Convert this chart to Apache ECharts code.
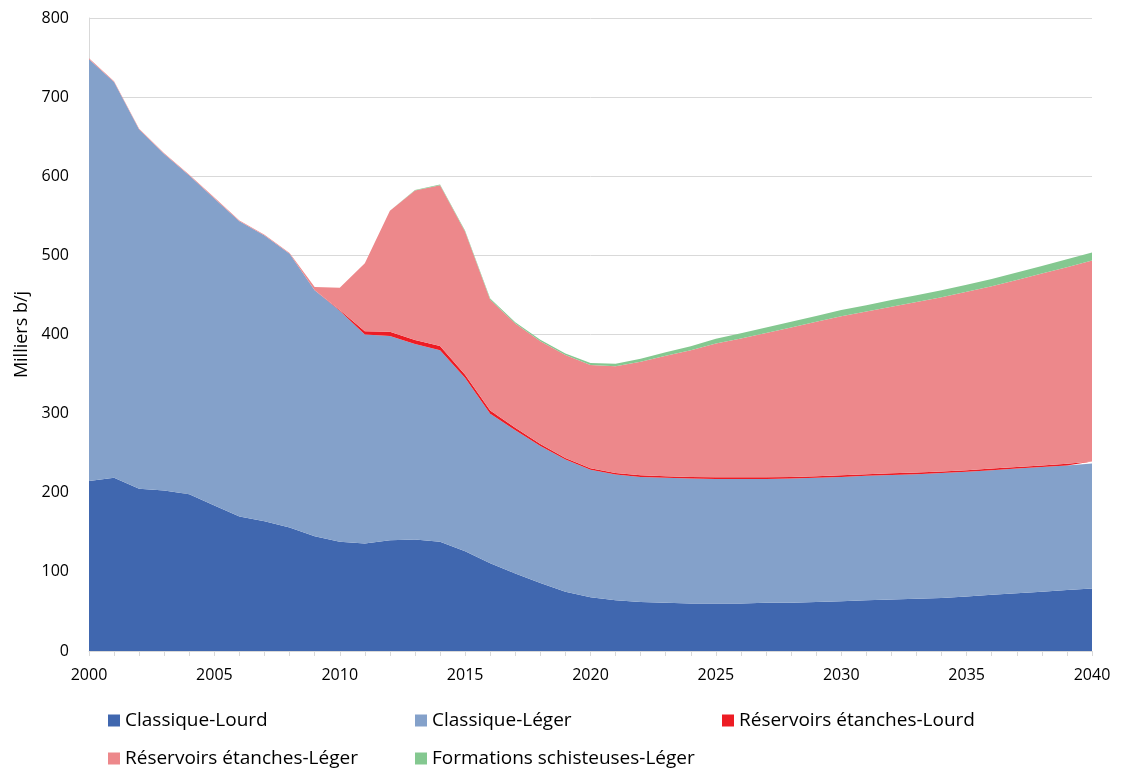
<!DOCTYPE html>
<html><head><meta charset="utf-8">
<script src="https://cdn.jsdelivr.net/npm/echarts@6/dist/echarts.min.js"></script>
<style>html,body{margin:0;padding:0;background:#fff}#c{width:1121px;height:770px}</style>
</head><body><div id="c"></div>
<script>
const years = [];
for (let y = 2000; y <= 2040; y++) years.push(String(y));
const classiqueLourd = [215,219,205,203,198,184,170,164,156,145,138,136,140,141,138,126,111,98,86,75,68,64,62,61,60,60,60,61,61,62,63,64,65,66,67,69,71,73,75,77,79];
const classiqueLeger = [533,500,454,425,403,388,373,361,346,311,292,264,258,247,242,219,189,181,173,167,161,159,158,158,158,157.5,157.5,156.5,157,157,157,157.5,157.5,157.5,158,157.5,157.5,157.5,157.5,157.5,158];
const reservoirsLourd = [0,0,0,0,0,0,0,0,0,0,1,4,5.5,5,5.5,4,4,3,2.5,2,2,2,2,2,2,2,2,2,2,2,2,2,2,2,2,2,2,2,2,2,2.5];
const reservoirsLeger = [1,1,1,1,1,1,1,1,1,4,28,86,153,189,203,181,140,132,130,130,130.5,135,143.5,152,160,169,175.5,182.5,189,195,201,205.5,210.5,215.5,220,225.5,230.5,236.5,242.5,248.5,254];
const schisteusesLeger = [0,0,0,0,0,0,0,0,0,0,0,0,0,0.5,1,1,1.5,1.5,2,2,2.5,3,4,4.5,5,6,6.5,7,7,7.5,8,8,8.5,8.5,9,9,9,9.5,9.5,10,10];
const names = ['Classique-Lourd','Classique-Léger','Réservoirs étanches-Lourd','Réservoirs étanches-Léger','Formations schisteuses-Léger'];
const colors = ['#4067AF','#84A1CA','#ED1C24','#ED888B','#84C890'];
const values = [classiqueLourd, classiqueLeger, reservoirsLourd, reservoirsLeger, schisteusesLeger];
const FONT = 'Open Sans';

const chart = echarts.init(document.getElementById('c'));
const legendPos = [[103,706],[410,706],[717,706],[103,744],[410,744]];
chart.setOption({
  animation: false,
  textStyle: {fontFamily: FONT},
  grid: {left: 89, right: 29, top: 18, bottom: 119},
  legend: names.map((n, i) => ({
    data: [n], left: legendPos[i][0], top: legendPos[i][1],
    itemWidth: 12, itemHeight: 12, itemGap: 6, icon: 'rect',
    textStyle: {fontSize: 19, color: '#000', fontFamily: FONT}
  })),
  xAxis: {
    type: 'category', data: years, boundaryGap: false,
    axisLine: {lineStyle: {color: '#d9d9d9'}},
    axisTick: {show: true, interval: 0, length: 5, lineStyle: {color: '#d9d9d9'}},
    axisLabel: {interval: 4, color: '#000', fontSize: 16, margin: 16, fontFamily: FONT},
    splitLine: {show: false}
  },
  yAxis: {
    type: 'value', min: 0, max: 800, interval: 100,
    name: 'Milliers b/j', nameLocation: 'middle', nameGap: 58, nameRotate: 90,
    nameTextStyle: {fontSize: 18, color: '#000', fontFamily: FONT},
    axisLine: {show: true, lineStyle: {color: '#d9d9d9'}},
    axisTick: {show: false},
    axisLabel: {color: '#000', fontSize: 16, margin: 20, fontFamily: FONT},
    splitLine: {lineStyle: {color: '#d9d9d9', width: 1}}
  },
  series: names.map((n, i) => ({
    name: n, type: 'line', stack: 'total', data: values[i],
    symbol: 'none', showSymbol: false,
    lineStyle: {width: 0},
    itemStyle: {color: colors[i]},
    areaStyle: {color: colors[i], opacity: 1}
  }))
});
</script></body></html>
